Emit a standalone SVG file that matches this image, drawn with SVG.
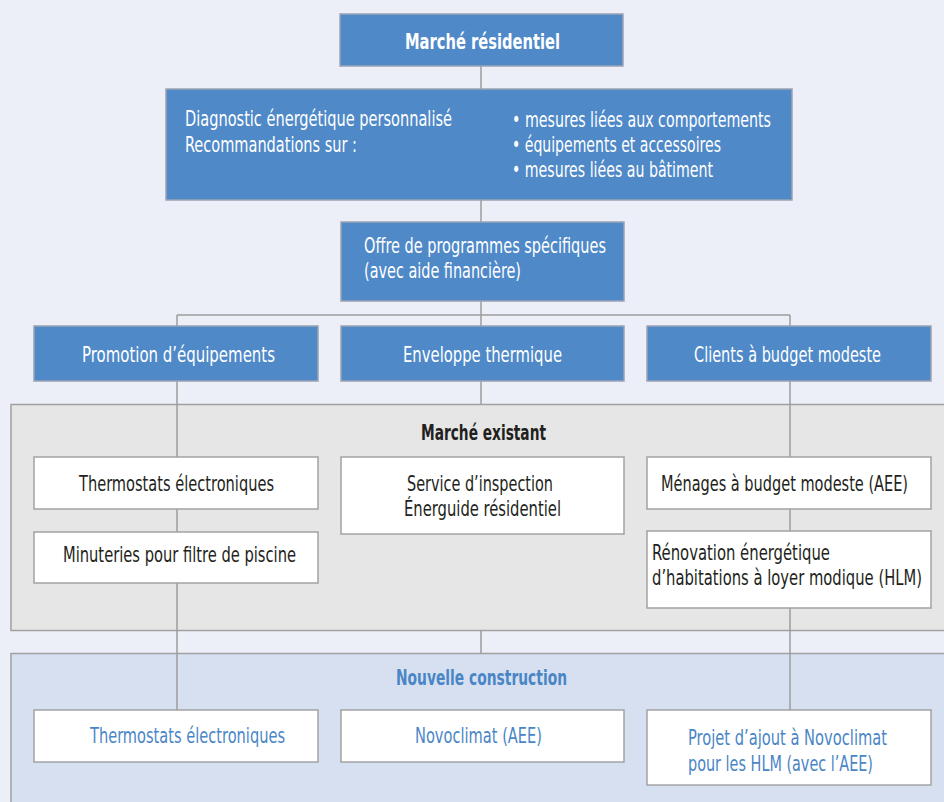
<svg xmlns="http://www.w3.org/2000/svg" width="944" height="802" viewBox="0 0 944 802">
<style>
text{font-family:"Liberation Sans Narrow","DejaVu Sans Condensed","Liberation Sans",sans-serif;font-size:22px}
.blue{fill:#4F89C8;stroke:#9AA3B3;stroke-width:1.5}
.white{fill:#FFFFFF;stroke:#A3A3A3;stroke-width:1.5}
.wt{fill:#FFFFFF}
.dk{fill:#231F20}
.bt{fill:#4A86C6}
.b{font-weight:bold}
.con line{stroke:#9C9C9C;stroke-width:1.5}
</style>
<rect x="0" y="0" width="944" height="802" fill="#ECEFF8"/>
<g id="panel-existant"><rect x="11" y="404.5" width="940" height="226" fill="#E6E6E6" stroke="#A0A0A0" stroke-width="1.5"/>
<text x="421" y="440" class="dk b" textLength="125" lengthAdjust="spacingAndGlyphs">Marché existant</text></g>
<g id="panel-nouvelle"><rect x="11" y="653.5" width="940" height="160" fill="#D7E0F1" stroke="#A0A0A0" stroke-width="1.5"/>
<text x="396" y="685" class="bt b" textLength="171" lengthAdjust="spacingAndGlyphs">Nouvelle construction</text></g>
<g class="con" id="connectors">
<line x1="481" y1="66" x2="481" y2="89"/>
<line x1="481" y1="200" x2="481" y2="222"/>
<line x1="481" y1="301" x2="481" y2="326"/>
<line x1="481" y1="381" x2="481" y2="404"/>
<line x1="481" y1="630" x2="481" y2="653"/>
<line x1="177" y1="315" x2="790" y2="315"/>
<line x1="177" y1="315" x2="177" y2="326"/>
<line x1="177" y1="381" x2="177" y2="457"/>
<line x1="177" y1="509" x2="177" y2="532"/>
<line x1="177" y1="583" x2="177" y2="710"/>
<line x1="790" y1="315" x2="790" y2="326"/>
<line x1="790" y1="381" x2="790" y2="457"/>
<line x1="790" y1="509" x2="790" y2="531"/>
<line x1="790" y1="608" x2="790" y2="710"/>
</g>
<g id="n-marche"><rect x="340" y="14" width="283" height="52" class="blue"/>
<text x="405" y="49" class="wt b" textLength="155" lengthAdjust="spacingAndGlyphs">Marché résidentiel</text></g>
<g id="n-diagnostic"><rect x="166" y="89" width="626" height="111" class="blue"/>
<text x="185" y="126" class="wt" textLength="267" lengthAdjust="spacingAndGlyphs">Diagnostic énergétique personnalisé</text>
<text x="185" y="152" class="wt" textLength="172" lengthAdjust="spacingAndGlyphs">Recommandations sur :</text>
<text x="512" y="127" class="wt" textLength="259" lengthAdjust="spacingAndGlyphs">• mesures liées aux comportements</text>
<text x="512" y="152" class="wt" textLength="209" lengthAdjust="spacingAndGlyphs">• équipements et accessoires</text>
<text x="512" y="177" class="wt" textLength="201" lengthAdjust="spacingAndGlyphs">• mesures liées au bâtiment</text></g>
<g id="n-offre"><rect x="341" y="222" width="283" height="79" class="blue"/>
<text x="364" y="253" class="wt" textLength="242" lengthAdjust="spacingAndGlyphs">Offre de programmes spécifiques</text>
<text x="364" y="278" class="wt" textLength="157" lengthAdjust="spacingAndGlyphs">(avec aide financière)</text></g>
<g id="n-promotion"><rect x="34" y="326" width="284" height="55" class="blue"/>
<text x="82" y="362" class="wt" textLength="193" lengthAdjust="spacingAndGlyphs">Promotion d’équipements</text></g>
<g id="n-enveloppe"><rect x="341" y="326" width="283" height="55" class="blue"/>
<text x="403" y="362" class="wt" textLength="159" lengthAdjust="spacingAndGlyphs">Enveloppe thermique</text></g>
<g id="n-clients"><rect x="647" y="326" width="284" height="55" class="blue"/>
<text x="694" y="362" class="wt" textLength="187" lengthAdjust="spacingAndGlyphs">Clients à budget modeste</text></g>
<g id="n-thermo1"><rect x="34" y="457" width="284" height="52" class="white"/>
<text x="79" y="491" class="dk" textLength="195" lengthAdjust="spacingAndGlyphs">Thermostats électroniques</text></g>
<g id="n-minuteries"><rect x="34" y="532" width="284" height="51" class="white"/>
<text x="63" y="562" class="dk" textLength="233" lengthAdjust="spacingAndGlyphs">Minuteries pour filtre de piscine</text></g>
<g id="n-service"><rect x="341" y="457" width="283" height="77" class="white"/>
<text x="407" y="491" class="dk" textLength="146" lengthAdjust="spacingAndGlyphs">Service d’inspection</text>
<text x="404" y="516" class="dk" textLength="157" lengthAdjust="spacingAndGlyphs">Énerguide résidentiel</text></g>
<g id="n-menages"><rect x="647" y="457" width="284" height="52" class="white"/>
<text x="661" y="491" class="dk" textLength="247" lengthAdjust="spacingAndGlyphs">Ménages à budget modeste (AEE)</text></g>
<g id="n-renovation"><rect x="647" y="531" width="284" height="77" class="white"/>
<text x="652" y="560" class="dk" textLength="178" lengthAdjust="spacingAndGlyphs">Rénovation énergétique</text>
<text x="652" y="585" class="dk" textLength="270" lengthAdjust="spacingAndGlyphs">d’habitations à loyer modique (HLM)</text></g>
<g id="n-thermo2"><rect x="34" y="710" width="284" height="52" class="white"/>
<text x="90" y="743" class="bt" textLength="195" lengthAdjust="spacingAndGlyphs">Thermostats électroniques</text></g>
<g id="n-novoclimat"><rect x="341" y="710" width="283" height="52" class="white"/>
<text x="415" y="743" class="bt" textLength="127" lengthAdjust="spacingAndGlyphs">Novoclimat (AEE)</text></g>
<g id="n-projet"><rect x="647" y="710" width="284" height="75" class="white"/>
<text x="688" y="745" class="bt" textLength="199" lengthAdjust="spacingAndGlyphs">Projet d’ajout à Novoclimat</text>
<text x="688" y="771" class="bt" textLength="185" lengthAdjust="spacingAndGlyphs">pour les HLM (avec l’AEE)</text></g>
</svg>
